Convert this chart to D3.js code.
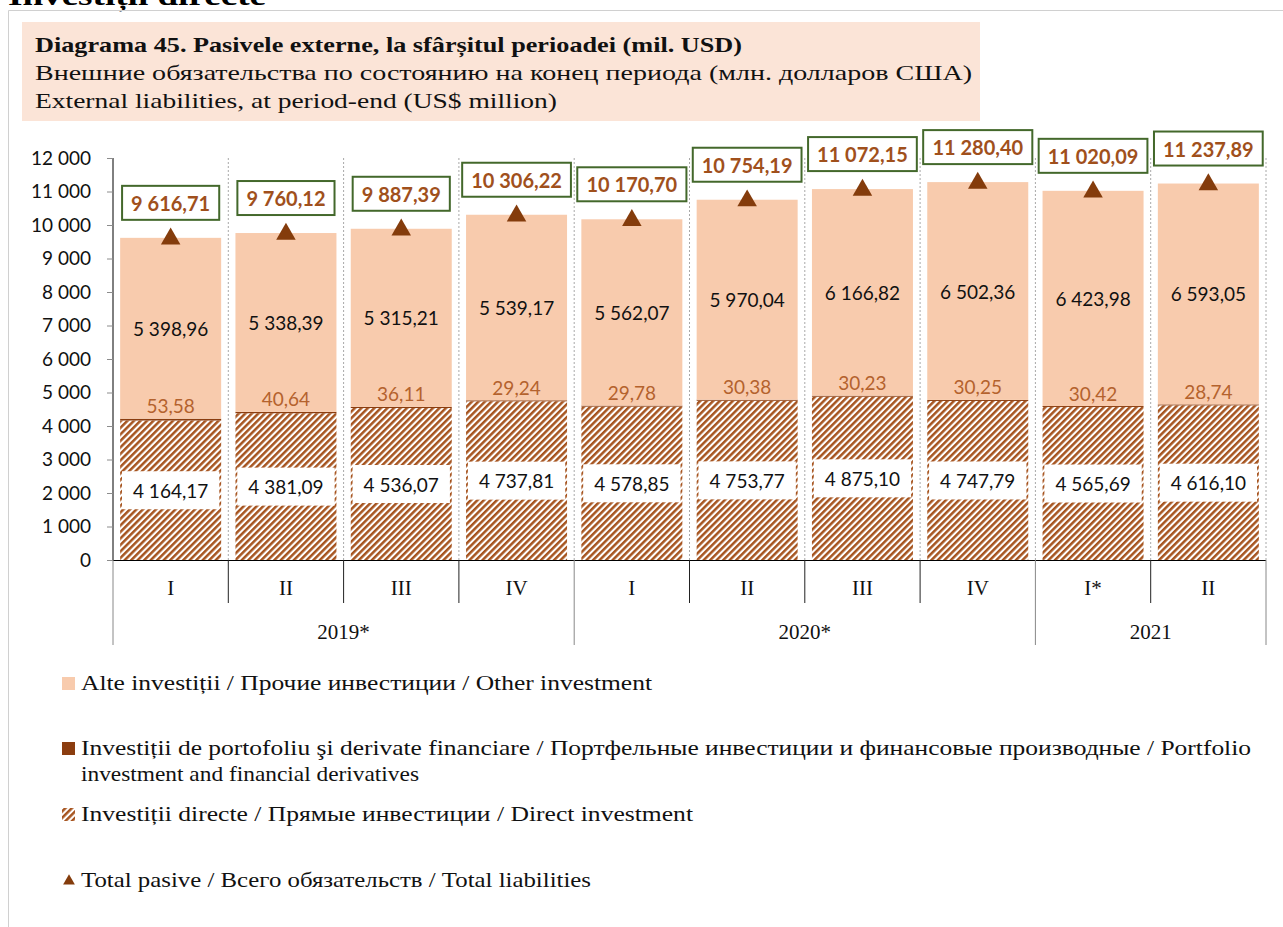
<!DOCTYPE html>
<html>
<head>
<meta charset="utf-8">
<script src="https://cdn.jsdelivr.net/npm/d3@7"></script>
<style>
  html, body { margin: 0; padding: 0; background: #fff; }
  svg { display: block; }
</style>
</head>
<body>
<svg id="chart" width="1283" height="927"></svg>
<script>
// ---- Data ----
const quarters = ["I", "II", "III", "IV", "I", "II", "III", "IV", "I*", "II"];
const years = [
  { label: "2019*", start: 0, end: 3 },
  { label: "2020*", start: 4, end: 7 },
  { label: "2021", start: 8, end: 9 }
];
const directInvestment = [4164.17, 4381.09, 4536.07, 4737.81, 4578.85, 4753.77, 4875.10, 4747.79, 4565.69, 4616.10];
const portfolioInvestment = [53.58, 40.64, 36.11, 29.24, 29.78, 30.38, 30.23, 30.25, 30.42, 28.74];
const otherInvestment = [5398.96, 5338.39, 5315.21, 5539.17, 5562.07, 5970.04, 6166.82, 6502.36, 6423.98, 6593.05];
const totalLiabilities = [9616.71, 9760.12, 9887.39, 10306.22, 10170.70, 10754.19, 11072.15, 11280.40, 11020.09, 11237.89];
const yTicks = [0, 1000, 2000, 3000, 4000, 5000, 6000, 7000, 8000, 9000, 10000, 11000, 12000];

const titleLines = [
  "Diagrama 45. Pasivele externe, la sfârșitul perioadei (mil. USD)",
  "Внешние обязательства по состоянию на конец периода (млн. долларов США)",
  "External liabilities, at period-end (US$ million)"
];

// ---- Styles ----
const C = {
  other: "#F8CBAD",
  portfolio: "#8B3D0F",
  hatch: "#A6541F",
  tri: "#843C0C",
  totalText: "#A0501C",
  totalBox: "#43682B",
  portText: "#B4622D",
  titleBg: "#FBE4D7"
};
const serif = "'Liberation Serif', 'DejaVu Serif', serif";
const sans = "Lato, 'Liberation Sans', sans-serif";

const fmt = v => {
  const s = v.toFixed(2).replace(".", ",");
  const [ip, dp] = s.split(",");
  return ip.replace(/\B(?=(\d{3})+(?!\d))/g, "\u00A0") + "," + dp;
};
const fmtTick = v => String(v).replace(/\B(?=(\d{3})+(?!\d))/g, "\u00A0");

const svg = d3.select("#chart");

// defs: hatch pattern
const defs = svg.append("defs");
const pat = defs.append("pattern")
  .attr("id", "hatch").attr("patternUnits", "userSpaceOnUse")
  .attr("width", 4.6).attr("height", 4.6)
  .attr("patternTransform", "rotate(45)");
pat.append("rect").attr("width", 4.6).attr("height", 4.6).attr("fill", "#fff");
pat.append("rect").attr("x", 0).attr("width", 2.5).attr("height", 4.6).attr("fill", C.hatch);

// top cut-off heading
svg.append("text").attr("x", 8).attr("y", 5)
  .attr("font-family", serif).attr("font-weight", "bold").attr("font-size", 28)
  .attr("textLength", 258).attr("lengthAdjust", "spacingAndGlyphs")
  .text("Investiții directe");

// outer frame
svg.append("path").attr("d", "M8.5,927 V10.5 H1283")
  .attr("fill", "none").attr("stroke", "#d0d0d0").attr("stroke-width", 1);

// title background
svg.append("rect").attr("x", 22).attr("y", 22).attr("width", 958).attr("height", 99).attr("fill", C.titleBg);
const titleY = [52, 80, 108];
const titleW = [707, 937, 522];
titleLines.forEach((t, i) => {
  svg.append("text").attr("x", 35).attr("y", titleY[i])
    .attr("font-family", serif).attr("font-size", 21)
    .attr("font-weight", i === 0 ? "bold" : "normal")
    .attr("fill", "#111")
    .attr("textLength", titleW[i]).attr("lengthAdjust", "spacingAndGlyphs")
    .text(t);
});

// ---- Scales ----
const x = d3.scaleBand().domain(d3.range(quarters.length)).range([113, 1266])
  .paddingInner(0.124).paddingOuter(0.062);
const y = d3.scaleLinear().domain([0, 12000]).range([560, 158]);
const step = x.step();
const left = x.range()[0];
const boundary = i => left + i * step;

// dotted vertical gridlines
const g = svg.append("g");
d3.range(1, quarters.length + 1).forEach(i => {
  g.append("line").attr("x1", boundary(i)).attr("x2", boundary(i))
    .attr("y1", y(12000)).attr("y2", y(0))
    .attr("stroke", "#a8a8a8").attr("stroke-width", 1).attr("stroke-dasharray", "2,2");
});

// stacked bars
const idx = d3.range(quarters.length);
// direct
g.selectAll(".direct").data(idx).join("rect")
  .attr("x", i => x(i)).attr("width", x.bandwidth())
  .attr("y", i => y(directInvestment[i])).attr("height", i => y(0) - y(directInvestment[i]))
  .attr("fill", "url(#hatch)");
// portfolio
g.selectAll(".port").data(idx).join("rect")
  .attr("x", i => x(i)).attr("width", x.bandwidth())
  .attr("y", i => y(directInvestment[i] + portfolioInvestment[i]))
  .attr("height", i => y(directInvestment[i]) - y(directInvestment[i] + portfolioInvestment[i]))
  .attr("fill", C.portfolio);
// other
g.selectAll(".other").data(idx).join("rect")
  .attr("x", i => x(i)).attr("width", x.bandwidth())
  .attr("y", i => y(directInvestment[i] + portfolioInvestment[i] + otherInvestment[i]))
  .attr("height", i => y(directInvestment[i] + portfolioInvestment[i]) - y(directInvestment[i] + portfolioInvestment[i] + otherInvestment[i]))
  .attr("fill", C.other);

// labels: direct (white box)
idx.forEach(i => {
  const cx = x(i) + x.bandwidth() / 2;
  const cy = y(directInvestment[i] / 2);
  const t = g.append("text").attr("x", cx).attr("y", cy)
    .attr("text-anchor", "middle").attr("dominant-baseline", "central")
    .attr("font-family", sans).attr("font-size", 19).attr("fill", "#111")
    .text(fmt(directInvestment[i]));
  const bb = t.node().getBBox();
  g.insert("rect", () => t.node())
    .attr("x", cx - bb.width / 2 - 11).attr("y", cy - 19)
    .attr("width", bb.width + 22).attr("height", 38).attr("fill", "#fff");
});
// labels: portfolio
idx.forEach(i => {
  const cx = x(i) + x.bandwidth() / 2;
  g.append("text").attr("x", cx).attr("y", y(directInvestment[i] + portfolioInvestment[i]) - 13)
    .attr("text-anchor", "middle").attr("dominant-baseline", "central")
    .attr("font-family", sans).attr("font-size", 19).attr("fill", C.portText)
    .text(fmt(portfolioInvestment[i]));
});
// labels: other
idx.forEach(i => {
  const cx = x(i) + x.bandwidth() / 2;
  const base = directInvestment[i] + portfolioInvestment[i];
  g.append("text").attr("x", cx).attr("y", y(base + otherInvestment[i] / 2))
    .attr("text-anchor", "middle").attr("dominant-baseline", "central")
    .attr("font-family", sans).attr("font-size", 19).attr("fill", "#111")
    .text(fmt(otherInvestment[i]));
});

// total triangles
const tri = d3.symbol().type(d3.symbolTriangle).size(165);
g.selectAll(".tri").data(idx).join("path")
  .attr("d", tri)
  .attr("transform", i => `translate(${x(i) + x.bandwidth() / 2},${y(totalLiabilities[i]) + 1})`)
  .attr("fill", C.tri);

// total labels with green box
idx.forEach(i => {
  const cx = x(i) + x.bandwidth() / 2;
  const cy = y(totalLiabilities[i]) - 35;
  const t = g.append("text").attr("x", cx).attr("y", cy)
    .attr("text-anchor", "middle").attr("dominant-baseline", "central")
    .attr("font-family", sans).attr("font-weight", "bold").attr("font-size", 20)
    .attr("fill", C.totalText)
    .text(fmt(totalLiabilities[i]));
  const bb = t.node().getBBox();
  g.insert("rect", () => t.node())
    .attr("x", cx - bb.width / 2 - 9).attr("y", cy - 17)
    .attr("width", bb.width + 18).attr("height", 34)
    .attr("fill", "#fff").attr("stroke", C.totalBox).attr("stroke-width", 2);
});

// y axis
const yAxis = d3.axisLeft(y).tickValues(yTicks).tickFormat(fmtTick).tickSize(6).tickPadding(16);
const ya = svg.append("g").attr("transform", "translate(113,0)").call(yAxis);
ya.select(".domain").attr("stroke", "#000").attr("d", `M0,${y(12000)}V${y(0)}`);
ya.selectAll(".tick line").attr("stroke", "#8c8c8c");
ya.selectAll(".tick text").attr("font-family", sans).attr("font-size", 19).attr("fill", "#111");

// x axis (custom two-level)
const xa = svg.append("g");
xa.append("line").attr("x1", 113).attr("x2", 1266).attr("y1", y(0) + 0.5).attr("y2", y(0) + 0.5).attr("stroke", "#000");
const yearBounds = new Set([0, 4, 8, 10]);
d3.range(0, quarters.length + 1).forEach(i => {
  const isYear = yearBounds.has(i);
  xa.append("line").attr("x1", boundary(i)).attr("x2", boundary(i))
    .attr("y1", y(0)).attr("y2", isYear ? 645 : 603)
    .attr("stroke", isYear ? "#888" : "#222").attr("stroke-width", 1);
});
xa.selectAll(".q").data(idx).join("text")
  .attr("x", i => x(i) + x.bandwidth() / 2).attr("y", 588)
  .attr("text-anchor", "middle").attr("dominant-baseline", "central")
  .attr("font-family", serif).attr("font-size", 21).attr("fill", "#111")
  .text(i => quarters[i]);
xa.selectAll(".yr").data(years).join("text")
  .attr("x", d => (boundary(d.start) + boundary(d.end + 1)) / 2).attr("y", 632)
  .attr("text-anchor", "middle").attr("dominant-baseline", "central")
  .attr("font-family", serif).attr("font-size", 21).attr("fill", "#111")
  .text(d => d.label);

// legend
const legend = svg.append("g");
const legItems = [
  { type: "other", lines: ["Alte investiții / Прочие инвестиции / Other investment"], y: 683, w: [571] },
  { type: "port", lines: ["Investiții de portofoliu şi derivate financiare / Портфельные инвестиции и финансовые производные / Portfolio", "investment and financial derivatives"], y: 748, w: [1170, 338] },
  { type: "direct", lines: ["Investiții directe / Прямые инвестиции / Direct investment"], y: 814, w: [612] },
  { type: "tri", lines: ["Total pasive / Всего обязательств / Total liabilities"], y: 880, w: [510] }
];
legItems.forEach(it => {
  if (it.type === "tri") {
    legend.append("path").attr("d", d3.symbol().type(d3.symbolTriangle).size(60)())
      .attr("transform", `translate(69,${it.y + 1})`).attr("fill", C.tri);
  } else {
    legend.append("rect").attr("x", 62).attr("y", it.y - 6).attr("width", 13).attr("height", 13)
      .attr("fill", it.type === "other" ? C.other : it.type === "port" ? C.portfolio : "url(#hatch)");
  }
  it.lines.forEach((ln, k) => {
    legend.append("text").attr("x", 81).attr("y", it.y + k * 26)
      .attr("dominant-baseline", "central")
      .attr("font-family", serif).attr("font-size", 21).attr("fill", "#111")
      .attr("textLength", it.w[k]).attr("lengthAdjust", "spacingAndGlyphs")
      .text(ln);
  });
});
</script>
</body>
</html>
